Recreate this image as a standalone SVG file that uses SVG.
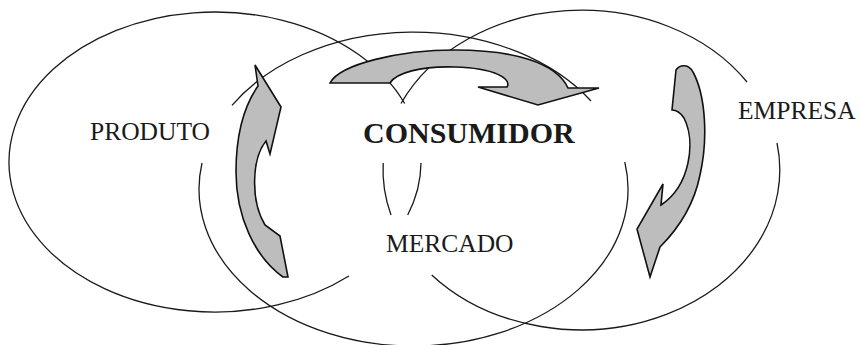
<svg xmlns="http://www.w3.org/2000/svg" width="861" height="345" viewBox="0 0 861 345">
<style>
.ring{fill:none;stroke:#1a1a1a;stroke-width:1.3}
.arrow{fill:#bdbdbd;stroke:#111;stroke-width:1.6;stroke-linejoin:miter}
.lbl{font-family:"Liberation Serif","Times New Roman",serif;font-size:25.5px;fill:#1a1a1a}
.big{font-family:"Liberation Serif","Times New Roman",serif;font-size:30px;font-weight:bold;fill:#1a1a1a}
</style>
<rect width="861" height="345" fill="#ffffff"/>
<g id="node-produto">
<path class="ring" d="M 404.7 103.5 A 206 150 0 1 0 348.9 276"/>
<path class="ring" d="M 421 163 A 206 150 0 0 1 407.7 215"/>
<text class="lbl" x="90" y="140">PRODUTO</text>
</g>
<g id="node-mercado">
<path class="ring" d="M 591 101 A 214.5 157 0 0 0 232 105.3"/>
<path class="ring" d="M 202 163 A 214.5 157 0 1 0 624.8 162"/>
<text class="lbl" x="386" y="252">MERCADO</text>
</g>
<g id="node-empresa">
<path class="ring" d="M 401 103.5 A 198.5 160 0 0 1 747 82"/>
<path class="ring" d="M 777 143 A 198.5 160 0 0 1 431.7 275"/>
<path class="ring" d="M 383.2 163 A 198.5 160 0 0 0 391 215"/>
<text class="lbl" x="738" y="119">EMPRESA</text>
</g>
<g id="connectors">
<path id="arrow-top" class="arrow" d="M 330 83 C 340 64, 400 50, 455 50 C 512 50, 556 62, 568 88 L 599 88 L 538 105 L 478 87 L 507 87 C 512 79, 495 68, 455 67 C 420 66, 396 73, 390 83 Z"/>
<path id="arrow-left" class="arrow" d="M 255 65 L 281 107 L 270 154 L 266 141 C 252 158, 250 200, 265 225 L 280 236 L 288 277 L 283 277 C 255 257, 236 217, 236 172 C 236 132, 244 106, 258 86 Z"/>
<path id="arrow-right" class="arrow" d="M 676 70 C 680 64, 689 64, 693 72 C 706 96, 708 140, 700 175 C 694 205, 678 229, 660 247 L 650 277 L 637 229 L 663 184 L 661 205 C 690 186, 696 142, 684 118 C 680 112, 677 110, 672 110 Z"/>
</g>
<g id="node-consumidor">
<text class="big" x="363" y="143">CONSUMIDOR</text>
</g>
</svg>
